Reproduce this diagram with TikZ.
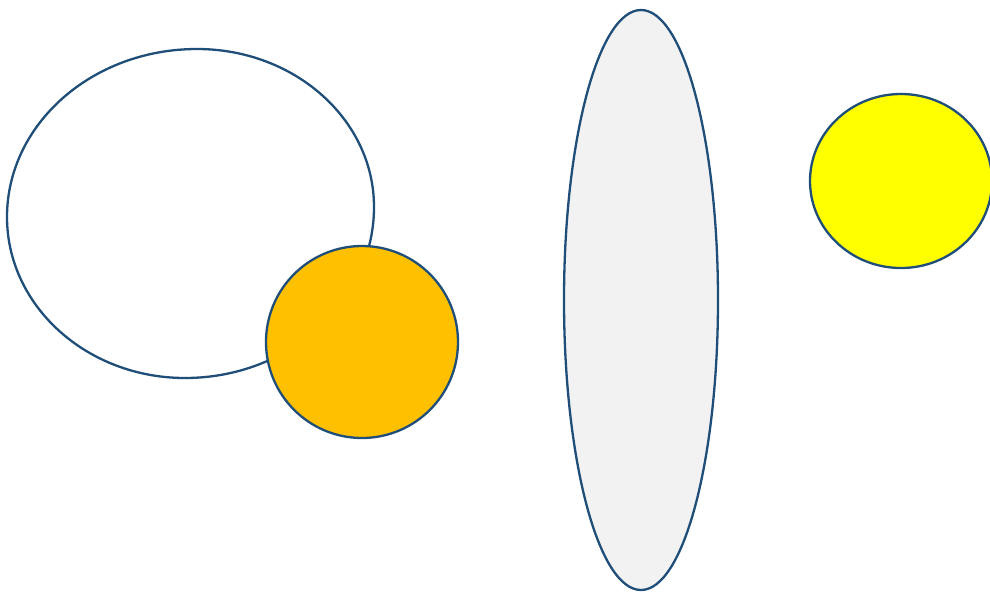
\documentclass[tikz,border=0pt]{standalone}
\usepackage{tikz}
\usetikzlibrary{positioning}

\definecolor{outline}{HTML}{1F4E79}
\definecolor{amber}{HTML}{FFC000}
\definecolor{lightgrey}{HTML}{F2F2F2}
\definecolor{brightyellow}{HTML}{FFFF00}

\begin{document}
\begin{tikzpicture}[
    x=1pt, y=-1pt,
    blob/.style={draw=outline, line width=2.3pt},
]
    \useasboundingbox (0,0) rectangle (990,592);
    \clip (0,0) rectangle (990,592);

    % big open shape on the left
    \draw[blob, fill=white] (197,49)
        .. controls (294.8,49) and (374,119.7) .. (374,207)
        .. controls (374,301.4) and (289.4,378) .. (185,378)
        .. controls (86.7,378) and (7,305.9) .. (7,217)
        .. controls (7,124.2) and (92.1,49) .. cycle;

    \draw[blob, fill=amber] (362,342) circle [radius=96];
    \draw[blob, fill=lightgrey] (641,300) ellipse [x radius=77, y radius=290];
    \draw[blob, fill=brightyellow] (901,181) ellipse [x radius=91, y radius=87];
\end{tikzpicture}
\end{document}
